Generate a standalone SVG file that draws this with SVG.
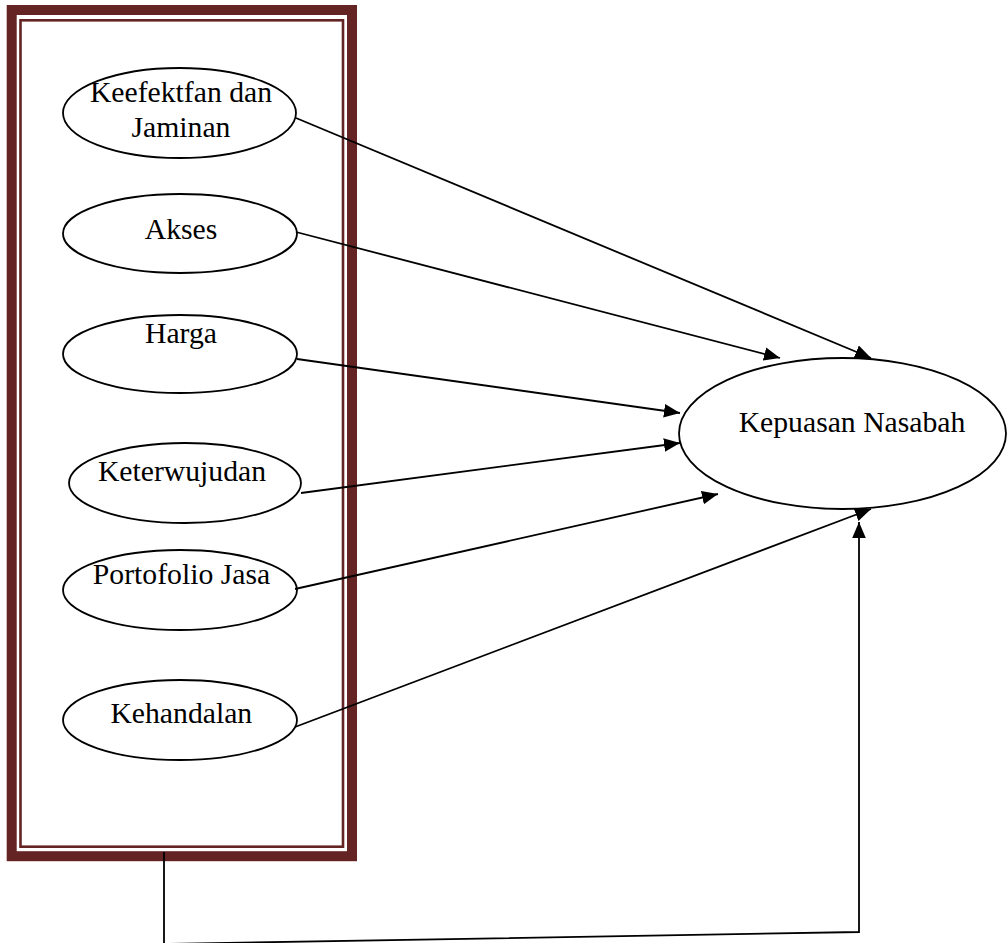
<svg xmlns="http://www.w3.org/2000/svg" width="1007" height="943" viewBox="0 0 1007 943">
<style>
.node ellipse{fill:#fff;stroke:#000;stroke-width:1.8}
.lbl{font-family:"Liberation Serif","Times New Roman",serif;font-size:29.7px;fill:#000;text-anchor:middle}
.conn{fill:none;stroke:#000;stroke-width:1.8}
.frame{fill:none;stroke:#632423}
</style>
<defs>
<marker id="arr" markerUnits="userSpaceOnUse" markerWidth="18" markerHeight="16" viewBox="0 0 18 16" refX="16" refY="8" orient="auto">
<path d="M0,1.2 L16,8 L0,14.8 Z" fill="#000"/>
</marker>
</defs>
<rect width="1007" height="943" fill="#fff"/>
<g id="frame">
<rect class="frame" x="11.7" y="10" width="340.3" height="846.2" stroke-width="10"/>
<rect class="frame" x="20.5" y="20.3" width="322.5" height="826.4" stroke-width="2.6"/>
</g>
<g id="n-keefektifan" class="node">
<ellipse cx="179.5" cy="113" rx="116.5" ry="45"/>
<text class="lbl" x="181" y="101.7">Keefektfan dan</text>
<text class="lbl" x="181" y="136.7">Jaminan</text>
</g>
<g id="n-akses" class="node">
<ellipse cx="180" cy="233.5" rx="117" ry="39.5"/>
<text class="lbl" x="181" y="239">Akses</text>
</g>
<g id="n-harga" class="node">
<ellipse cx="180" cy="354" rx="117" ry="39"/>
<text class="lbl" x="181" y="343.3">Harga</text>
</g>
<g id="n-keterwujudan" class="node">
<ellipse cx="185" cy="483" rx="116" ry="40"/>
<text class="lbl" x="182" y="480.7">Keterwujudan</text>
</g>
<g id="n-portofolio" class="node">
<ellipse cx="180" cy="590" rx="117" ry="40"/>
<text class="lbl" x="181.5" y="584">Portofolio Jasa</text>
</g>
<g id="n-kehandalan" class="node">
<ellipse cx="180" cy="720" rx="117" ry="40"/>
<text class="lbl" x="181.3" y="722.7">Kehandalan</text>
</g>
<g id="n-kepuasan" class="node">
<ellipse cx="842.5" cy="433.5" rx="163.5" ry="75.5"/>
<text class="lbl" x="852" y="432">Kepuasan Nasabah</text>
</g>
<g id="connectors">
<line class="conn" x1="296" y1="118" x2="871" y2="358" marker-end="url(#arr)"/>
<line class="conn" x1="296" y1="232" x2="780" y2="358" marker-end="url(#arr)"/>
<line class="conn" x1="297" y1="359" x2="680" y2="413" marker-end="url(#arr)"/>
<line class="conn" x1="301" y1="493" x2="680" y2="443" marker-end="url(#arr)"/>
<line class="conn" x1="295" y1="589" x2="718" y2="494" marker-end="url(#arr)"/>
<line class="conn" x1="295" y1="727" x2="871" y2="509" marker-end="url(#arr)"/>
<polyline class="conn" points="164,852 164,944 859,932 859,522" marker-end="url(#arr)"/>
</g>
</svg>
